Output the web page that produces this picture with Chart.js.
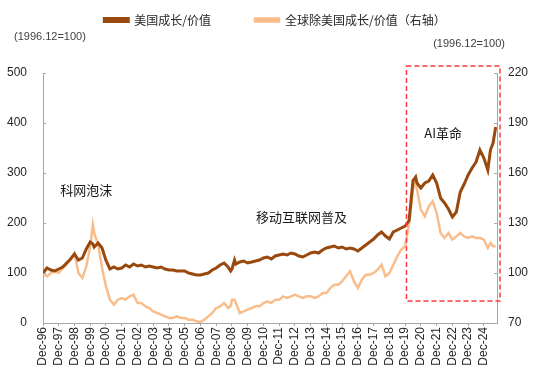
<!DOCTYPE html>
<html lang="zh">
<head>
  <meta charset="UTF-8">
  <title>美国成长/价值</title>

  <!-- Chart.js -->
  <script src="https://cdn.jsdelivr.net/npm/chart.js@4"></script>

  <style>
    html, body { margin: 0; padding: 0; background: #fff; }
    #wrap { position: relative; width: 550px; height: 381px; }
  </style>
</head>
<body>
  <div id="wrap">
    <canvas id="grafGV" width="550" height="381"></canvas>
  </div>

  <script>
    /* --- Datos (meses desde Dec-96, lectura trimestral) --- */
    const months = [0,3,6,9,12,15,18,21,24,27,30,33,36,38,39,42,45,48,51,54,57,60,63,66,69,72,75,78,81,84,87,90,93,96,99,102,105,108,111,114,117,120,123,126,129,132,135,138,141,143,144,146,147,150,153,156,159,162,165,168,171,174,177,180,183,186,189,192,195,198,201,204,207,210,213,216,219,222,225,228,231,234,237,240,243,246,249,252,255,258,261,264,267,270,273,276,279,282,284,285,288,291,294,297,300,303,306,309,312,315,318,321,324,327,330,333,336,339,341,343,345];

    // 美国成长/价值 (eje izquierdo)
    const usGV = [100,110,106,104,108,112,120,128,138,126,130,148,162,158,152,160,150,125,108,112,108,110,116,112,118,114,116,112,114,112,110,112,108,106,106,104,104,104,100,98,96,96,98,100,106,110,116,120,112,104,108,126,118,122,124,120,122,124,126,130,132,128,134,136,138,136,140,138,134,132,136,140,142,140,146,150,152,154,150,152,148,150,148,144,150,156,162,168,176,182,174,168,182,186,190,194,205,285,292,280,270,280,284,296,280,250,240,228,212,222,262,278,296,310,322,346,330,306,346,360,392];

    // 全球除美国成长/价值 (eje derecho)
    const exUsGV = [100,98,100,101,100,103,105,108,112,100,97,104,116,129,124,117,103,92,84,81,84,85,84,86,87,82,82,80,79,77,76,75,74,73,73,74,73,73,72,72,71,70.5,72,74,76,79,80,82,79,80,84,84,82,76,77,78,79,80,80,82,83,82,84,84,86,85,86,87,86,85,86,86,85,86,88,88,91,93,93,95,98,101,95,91,96,99,99,100,102,105,98,100,105,110,114,116,130,150,156,150,138,134,140,143,136,124,121,124,120,122,124,122,121,122,121,121,120,115,118,116,116];

    const xTicks  = [0,12,24,36,48,60,72,84,96,108,120,132,144,156,168,180,192,204,216,228,240,252,264,276,288,300,312,324,336];
    const xLabels = ['Dec-96','Dec-97','Dec-98','Dec-99','Dec-00','Dec-01','Dec-02','Dec-03','Dec-04','Dec-05','Dec-06','Dec-07','Dec-08','Dec-09','Dec-10','Dec-11','Dec-12','Dec-13','Dec-14','Dec-15','Dec-16','Dec-17','Dec-18','Dec-19','Dec-20','Dec-21','Dec-22','Dec-23','Dec-24'];
    const leftTicks  = [0,100,200,300,400,500];
    const rightTicks = [70,100,130,160,190,220];

    const BROWN  = '#99480e';
    const ORANGE = '#f9bd8c';
    const AXIS   = '#a6a6a6';
    const CJK    = "'Noto Sans CJK SC', sans-serif";
    const LATIN  = "'Liberation Sans', Arial, sans-serif";

    /* --- Alto fijo de la leyenda (labels.padding también empuja hacia abajo) --- */
    const legendPad = {
      id: 'legendPad',
      beforeInit (chart) {
        const fit = chart.legend.fit;
        chart.legend.fit = function () { fit.call(this); this.height = 103; };
      }
    };

    /* --- Textos, unidades, marcas internas y recuadro rojo --- */
    const extras = {
      id: 'extras',
      afterDraw (chart) {
        const { ctx, chartArea, scales } = chart;
        const x = scales.x, y = scales.y, y1 = scales.y1;
        ctx.save();

        // marcas hacia dentro en los ejes verticales
        ctx.strokeStyle = AXIS;
        ctx.lineWidth = 1;
        ctx.beginPath();
        leftTicks.forEach(v => {
          const py = Math.round(y.getPixelForValue(v)) + 0.5;
          ctx.moveTo(chartArea.left, py); ctx.lineTo(chartArea.left + 3, py);
        });
        rightTicks.forEach(v => {
          const py = Math.round(y1.getPixelForValue(v)) + 0.5;
          ctx.moveTo(chartArea.right, py); ctx.lineTo(chartArea.right - 3, py);
        });
        ctx.stroke();

        // unidades
        ctx.fillStyle = '#404040';
        ctx.font = '11px ' + LATIN;
        ctx.textBaseline = 'middle';
        ctx.textAlign = 'left';
        ctx.fillText('(1996.12=100)', 14, 37);
        ctx.textAlign = 'right';
        ctx.fillText('(1996.12=100)', 505, 44);

        // anotaciones
        ctx.fillStyle = '#1a1a1a';
        ctx.font = '13px ' + CJK;
        ctx.textAlign = 'center';
        ctx.fillText('科网泡沫', x.getPixelForValue(33), y.getPixelForValue(266));
        ctx.fillText('移动互联网普及', x.getPixelForValue(197), y.getPixelForValue(212));
        ctx.fillText('AI革命', x.getPixelForValue(305), y.getPixelForValue(380));

        // recuadro AI
        const bx = x.getPixelForValue(277);
        const by = chartArea.top - 7;
        ctx.strokeStyle = '#ff3b3b';
        ctx.lineWidth = 1.5;
        ctx.setLineDash([5, 3]);
        ctx.strokeRect(bx, by, chartArea.right + 3 - bx, y.getPixelForValue(44) - by);
        ctx.restore();
      }
    };

    const axisBorder = { display: true, color: AXIS, width: 1 };

    new Chart(document.getElementById('grafGV'), {
      type : 'line',
      data : {
        datasets : [{
          label           : '美国成长/价值',
          data            : months.map((m, i) => ({ x: m, y: usGV[i] })),
          borderColor     : BROWN,
          backgroundColor : BROWN,
          borderWidth     : 3,
          pointRadius     : 0,
          yAxisID         : 'y'
        }, {
          label           : '全球除美国成长/价值（右轴）',
          data            : months.map((m, i) => ({ x: m, y: exUsGV[i] })),
          borderColor     : ORANGE,
          backgroundColor : ORANGE,
          borderWidth     : 2.5,
          pointRadius     : 0,
          yAxisID         : 'y1'
        }]
      },
      options : {
        responsive          : false,
        animation           : false,
        devicePixelRatio    : 1,
        layout : { padding: { top: -30, left: 0, right: 0, bottom: 0 } },
        plugins : {
          legend : {
            position : 'top',
            labels   : {
              boxWidth  : 24,
              boxHeight : 3,
              padding   : 44,
              color     : '#262626',
              font      : { family: CJK, size: 12 }
            }
          },
          tooltip : { enabled: false }
        },
        scales : {
          x : {
            type : 'linear',
            min  : 0,
            max  : 346,
            grid : { drawOnChartArea: false, drawTicks: true, tickLength: 3, color: AXIS },
            border : axisBorder,
            afterBuildTicks : s => { s.ticks = xTicks.map(v => ({ value: v })); },
            afterFit : s => { s.height = 58; },
            ticks : {
              autoSkip    : false,
              minRotation : 90,
              maxRotation : 90,
              padding     : 1,
              color       : '#262626',
              font        : { family: LATIN, size: 12 },
              callback    : v => xLabels[xTicks.indexOf(v)] ?? ''
            }
          },
          y : {
            position : 'left',
            min : 0, max : 500,
            grid : { drawOnChartArea: false, drawTicks: false },
            border : axisBorder,
            afterBuildTicks : s => { s.ticks = leftTicks.map(v => ({ value: v })); },
            afterFit : s => { s.width = 43; },
            ticks : { padding: 16, color: '#262626', font: { family: LATIN, size: 12 } }
          },
          y1 : {
            position : 'right',
            min : 70, max : 220,
            grid : { drawOnChartArea: false, drawTicks: false },
            border : axisBorder,
            afterBuildTicks : s => { s.ticks = rightTicks.map(v => ({ value: v })); },
            afterFit : s => { s.width = 53; },
            ticks : { padding: 11, color: '#262626', font: { family: LATIN, size: 12 } }
          }
        }
      },
      plugins : [legendPad, extras]
    });
  </script>
</body>
</html>
